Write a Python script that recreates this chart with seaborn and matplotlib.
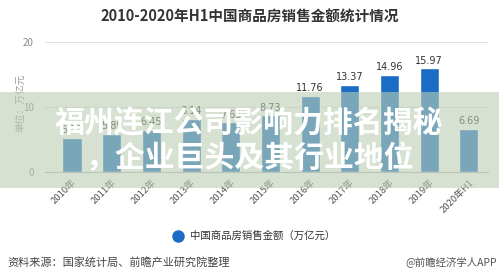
import matplotlib
matplotlib.use("Agg")
import matplotlib.pyplot as plt
import seaborn as sns
import pandas as pd
from matplotlib.patches import Rectangle
from matplotlib.lines import Line2D

years = ["2010年", "2011年", "2012年", "2013年", "2014年", "2015年",
         "2016年", "2017年", "2018年", "2019年", "2020年H1"]
values = [5.25, 5.89, 6.45, 8.14, 7.63, 8.73, 11.76, 13.37, 14.96, 15.97, 6.69]
yticks = [0, 10, 20]

title = "2010-2020年H1中国商品房销售金额统计情况"
ylabel = "单位：万亿元"
legend_label = "中国商品房销售金额（万亿元）"
source = "资料来源：国家统计局、前瞻产业研究院整理"
brand = "@前瞻经济学人APP"
overlay_lines = ["福州连江公司影响力排名揭秘", "，企业巨头及其行业地位"]

sns.set_theme(style="white")
plt.rcParams['font.family'] = ['Noto Sans CJK SC', 'DejaVu Sans']

df = pd.DataFrame({"year": years, "value": values})

fig = plt.figure(figsize=(4.99, 2.79), dpi=100)
ax = fig.add_axes([45/499, 1-172/279, (488-45)/499, 130/279])

blue = "#1a6cc4"
sns.barplot(data=df, x="year", y="value", color=blue, width=0.48,
            saturation=1, ax=ax)

ax.set_ylim(0, 20)
ax.set_xlim(-0.68, 10.48)
ax.set_yticks(yticks)
ax.set_yticklabels([str(t) for t in yticks], fontsize=7, color="#888888")
ax.yaxis.grid(True, color="#e2e2e2", linewidth=0.8)
ax.set_axisbelow(True)
for s in ["top", "right", "left"]:
    ax.spines[s].set_visible(False)
ax.spines["bottom"].set_color("#bbbbbb")
ax.spines["bottom"].set_linewidth(0.8)
ax.tick_params(axis="y", length=0, pad=8)
ax.tick_params(axis="x", length=3, color="#bbbbbb", width=0.8, pad=1)
ax.set_xticks(range(len(years)))
ax.set_xticklabels(years, rotation=45, ha="right", rotation_mode="anchor",
                   fontsize=6.8, color="#555555")
ax.set_xlabel("")
ax.set_ylabel("")

for i, v in enumerate(values):
    ax.text(i, v + 0.4, f"{v:.2f}", ha="center", va="bottom", fontsize=7,
            color="#333333", family=['DejaVu Sans'])

fig.text(250/499, 1-17/279, title, ha="center", va="center", fontsize=10.5,
         fontweight="bold", color="#333333")
fig.text(20/499, 1-103/279, ylabel, rotation=90, ha="center", va="center",
         fontsize=7, color="#999999")

# legend
fig.add_artist(Line2D([178/499], [1-236/279], marker="o", markersize=8,
                      color=blue, linestyle="none", transform=fig.transFigure))
fig.text(190/499, 1-236/279, legend_label, ha="left", va="center",
         fontsize=7.5, color="#333333")

fig.text(7/499, 1-262/279, source, ha="left", va="center", fontsize=8,
         color="#444444")
fig.text(497/499, 1-262/279, brand, ha="right", va="center", fontsize=7.5,
         color="#555555")

# overlay band
fig.patches.append(Rectangle((0, 1-188/279), 1, 96/279, transform=fig.transFigure,
                             facecolor=(188/255, 205/255, 180/255), alpha=0.6,
                             edgecolor="none", figure=fig, zorder=5))
fig.text(249/499, 1-123/279, overlay_lines[0], ha="center", va="center",
         fontsize=21.5, fontweight="bold", color="white", zorder=6)
fig.text(250/499, 1-158/279, overlay_lines[1], ha="center", va="center",
         fontsize=21.5, fontweight="bold", color="white", zorder=6)

fig.savefig("out.png", dpi=100)
